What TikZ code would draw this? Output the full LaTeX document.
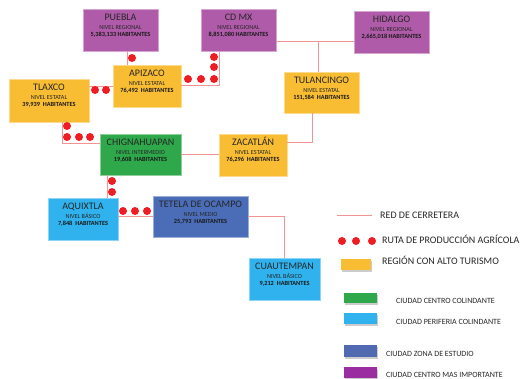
\documentclass[tikz,border=0pt]{standalone}
\usepackage{fontspec}
\setmainfont{Carlito}
\usetikzlibrary{shadows}
\definecolor{cpurple}{HTML}{B05BA9}
\definecolor{lpurple}{HTML}{9A2EA0}
\definecolor{cyellow}{HTML}{F9BD33}
\definecolor{cgreen}{HTML}{2EA84A}
\definecolor{clblue}{HTML}{30B2EE}
\definecolor{cblue}{HTML}{4B6DB8}
\definecolor{lblue}{HTML}{5069B0}
\definecolor{croad}{HTML}{F29494}
\definecolor{cdot}{HTML}{EE1D23}
\tikzset{
  citybox/.style={fill=#1, draw=#1!55!white, line width=0.6pt, inner sep=0pt,
    drop shadow={shadow xshift=0.5pt, shadow yshift=-1.5pt, opacity=0.3}},
  swatch/.style={fill=#1, draw=none, inner sep=0pt,
    drop shadow={shadow xshift=0.6pt, shadow yshift=-1.6pt, opacity=0.4}},
  titletext/.style={anchor=base, inner sep=0pt, text=black!85, font=\fontsize{10}{12}\selectfont},
  leveltext/.style={anchor=base, inner sep=0pt, text=black!85, font=\fontsize{6.2}{7}\selectfont},
  habtext/.style={anchor=base, inner sep=0pt, text=black!90, font=\bfseries\fontsize{6.3}{7}\selectfont},
  road/.style={draw=croad, line width=1pt},
  legbig/.style={anchor=mid west, inner sep=0pt, text=black!85, font=\fontsize{10}{12}\selectfont},
  legsmall/.style={anchor=mid west, inner sep=0pt, text=black!85, font=\fontsize{8}{9}\selectfont},
}
\newcommand\City[8]{%
  \node[citybox=#5, minimum width=#3pt, minimum height=#4pt] (#1) at #2 {};
  \node[titletext] (#1-t) at ([yshift=-11.5pt]#1.north) {#6};
  \node[leveltext] (#1-l) at ([yshift=-20.7pt]#1.north) {#7};
  \node[habtext] (#1-h) at ([yshift=-28.2pt]#1.north) {#8};
}
\newcommand\Dot[1]{\fill[cdot] #1 circle (4pt);}
\begin{document}
\begin{tikzpicture}[x=1pt,y=-1pt]
\useasboundingbox (0,0) rectangle (522,379);

% city boxes
\City{puebla}{(120.5,30)}{75}{42}{cpurple}{PUEBLA}{NIVEL REGIONAL}{5,383,133 HABITANTES}
\City{cdmx}{(238.5,30)}{75}{42}{cpurple}{CD MX}{NIVEL REGIONAL}{8,851,080 HABITANTES}
\City{hidalgo}{(391.5,32)}{75}{42}{cpurple}{HIDALGO}{NIVEL REGIONAL}{2,665,018 HABITANTES}
\City{apizaco}{(147,86)}{68}{42}{cyellow}{APIZACO}{NIVEL ESTATAL}{76,492~ HABITANTES}
\City{tlaxco}{(49,100.5)}{80}{43}{cyellow}{TLAXCO}{NIVEL ESTATAL}{39,939~ HABITANTES}
\City{tulancingo}{(321.5,92.5)}{75}{41}{cyellow}{TULANCINGO}{NIVEL ESTATAL}{151,584~ HABITANTES}
\City{chig}{(140.5,154.5)}{81}{41}{cgreen}{CHIGNAHUAPAN}{NIVEL INTERMEDIO}{19,608~ HABITANTES}
\City{zacatlan}{(253,155)}{68}{42}{cyellow}{ZACATLÁN}{NIVEL ESTATAL}{76,296~ HABITANTES}
\City{aquixtla}{(83,219)}{70}{42}{clblue}{AQUIXTLA}{NIVEL BÁSICO}{7,848~ HABITANTES}
\City{tetela}{(200.5,216.5)}{95}{41}{cblue}{TETELA DE OCAMPO}{NIVEL MEDIO}{25,793~ HABITANTES}
\City{cuautempan}{(284.5,279)}{71}{42}{clblue}{CUAUTEMPAN}{NIVEL BÁSICO}{9,212~ HABITANTES}

% helper coordinates on box edges
\coordinate (pbs) at ([xshift=6.5pt]puebla.south);
\coordinate (cds) at ([xshift=-19.5pt]cdmx.south);
\coordinate (cde) at ([yshift=-12pt]cdmx.east);
\coordinate (tun) at ([xshift=-3.5pt]tulancingo.north);
\coordinate (tus) at ([xshift=-9.5pt]tulancingo.south);
\coordinate (zae) at ([yshift=12pt]zacatlan.east);
\coordinate (apw) at ([yshift=-1pt]apizaco.west);
\coordinate (txs) at ([xshift=13pt]tlaxco.south);
\coordinate (chw) at ([yshift=10.5pt]chig.west);
\coordinate (chs) at ([xshift=-33.5pt]chig.south);
\coordinate (aqe) at ([yshift=2pt]aquixtla.east);

% connectors
\draw[road] (pbs) -- (pbs |- apizaco.north);
\draw[road] (cds) |- (apizaco.east);
\draw[road] (cde) -- (cde -| hidalgo.west);
\draw[road] (tun) -- (tun |- cde);
\draw[road] (tus) |- (zae);
\draw[road] (apw) -- (apw -| tlaxco.east);
\draw[road] (txs) |- (chw);
\draw[road] (chig.east) -- (chig.east -| zacatlan.west);
\draw[road] (chs) -- (chs |- aquixtla.north);
\draw[road] (aqe) -- (aqe -| tetela.west);
\draw[road] (tetela.east) -| (cuautempan.north);

% agricultural route dots
\Dot{(132,58)}
\Dot{(188,79)}\Dot{(201,79)}\Dot{(214,79)}\Dot{(214,67)}\Dot{(214,57)}
\Dot{(95,90)}\Dot{(106,90)}
\Dot{(67,126)}\Dot{(67,137)}\Dot{(79,137)}\Dot{(90,137)}
\Dot{(112,181)}\Dot{(112,192)}
\Dot{(123,211)}\Dot{(135,211)}\Dot{(147,211)}

% legend
\coordinate (lga) at (337,216);
\coordinate (lgb) at (372,216);
\draw[road] (lga) -- (lgb);
\node[legbig] (lgt1) at (380,216) {RED DE CERRETERA};
\Dot{(342,241)}\Dot{(356,241)}\Dot{(372,241)}
\node[legbig] (lgt2) at (382,241) {RUTA DE PRODUCCIÓN AGRÍCOLA};
\node[swatch=cyellow, minimum width=30pt, minimum height=11pt] (sw1) at (356,264.5) {};
\node[legbig] (lgt3) at (382,262) {REGIÓN CON ALTO TURISMO};
\node[swatch=cgreen, minimum width=33pt, minimum height=10pt] (sw2) at (360.5,298) {};
\node[legsmall] (lgt4) at (396,301) {CIUDAD CENTRO COLINDANTE};
\node[swatch=clblue, minimum width=33pt, minimum height=11pt] (sw3) at (360.5,318.5) {};
\node[legsmall] (lgt5) at (396,322) {CIUDAD PERIFERIA COLINDANTE};
\node[swatch=lblue, minimum width=33pt, minimum height=12pt] (sw4) at (360.5,351) {};
\node[legsmall] (lgt6) at (386,354) {CIUDAD ZONA DE ESTUDIO};
\node[swatch=lpurple, minimum width=33pt, minimum height=11pt] (sw5) at (360.5,372.5) {};
\node[legsmall] (lgt7) at (386,375) {CIUDAD CENTRO MAS IMPORTANTE};
\end{tikzpicture}
\end{document}
